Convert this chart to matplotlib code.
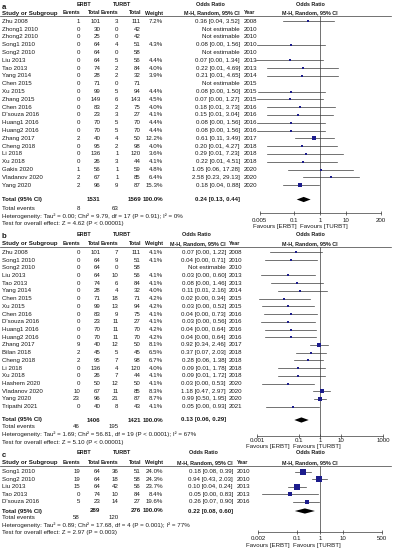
import numpy as np
import matplotlib
matplotlib.use("Agg")
import matplotlib.pyplot as plt
from matplotlib.patches import Polygon
from matplotlib.ticker import NullLocator
from matplotlib.transforms import blended_transform_factory

W, H = 394, 550
FS = 4.4
FS_HEAD = 3.9
INK = "#1a1a1a"
LINE = "#3a3a3a"
BLUE = "#1c1c8c"

plt.rcParams.update({
    "font.family": ["Liberation Sans", "DejaVu Sans"],
    "font.size": FS,
    "text.color": INK,
})

NA = np.nan

# ── panel a ──────────────────────────────────────────────────────────────
A_STUDY = ["Zhu 2008", "Zhong1 2010", "Zhong2 2010", "Song1 2010", "Song2 2010",
           "Liu 2013", "Tao 2013", "Yang 2014", "Chen 2015", "Xu 2015",
           "Zhang 2015", "Chen 2016", "D'souza 2016", "Huang1 2016", "Huang2 2016",
           "Zhang 2017", "Cheng 2018", "Li 2018", "Xu 2018", "Gakis 2020",
           "Vladanov 2020", "Yang 2020"]
A_E_ERBT = [1, 0, 0, 0, 0, 0, 0, 0, 0, 0, 0, 0, 0, 0, 0, 2, 0, 0, 0, 1, 2, 2]
A_N_ERBT = [101, 30, 25, 64, 64, 64, 74, 28, 71, 99, 149, 83, 23, 70, 70, 40, 95, 136, 26, 56, 67, 96]
A_E_TURBT = [3, 0, 0, 4, 0, 5, 2, 2, 0, 5, 6, 2, 3, 5, 5, 4, 2, 1, 3, 1, 1, 9]
A_N_TURBT = [111, 42, 42, 51, 58, 56, 84, 32, 71, 94, 143, 75, 27, 70, 70, 50, 98, 120, 44, 59, 85, 87]
A_WEIGHT = [7.2, NA, NA, 4.3, NA, 4.4, 4.0, 3.9, NA, 4.4, 4.5, 4.0, 4.1, 4.4, 4.4,
            12.2, 4.0, 3.6, 4.1, 4.8, 6.4, 15.3]
A_OR = [0.36, NA, NA, 0.08, NA, 0.07, 0.22, 0.21, NA, 0.08, 0.07, 0.18, 0.15, 0.08, 0.08,
        0.61, 0.20, 0.29, 0.22, 1.05, 2.58, 0.18]
A_LO = [0.04, NA, NA, 0.0041, NA, 0.0037, 0.01, 0.01, NA, 0.0043, 0.0039, 0.01, 0.01,
        0.0041, 0.0041, 0.11, 0.01, 0.01, 0.01, 0.06, 0.23, 0.04]
A_HI = [3.52, NA, NA, 1.56, NA, 1.34, 4.69, 4.65, NA, 1.50, 1.27, 3.73, 3.04, 1.56, 1.56,
        3.49, 4.27, 7.23, 4.51, 17.28, 29.13, 0.88]
A_YEAR = [2008, 2010, 2010, 2010, 2010, 2013, 2013, 2014, 2015, 2015, 2015, 2016, 2016,
          2016, 2016, 2017, 2018, 2018, 2018, 2020, 2020, 2020]
A_TOTAL_N = [1531, 1569]
A_TOTAL_EVENTS = [8, 63]
A_POOLED = [0.24, 0.13, 0.44]
A_HET = "Heterogeneity: Tau² = 0.00; Chi² = 9.79, df = 17 (P = 0.91); I² = 0%"
A_TEST = "Test for overall effect: Z = 4.62 (P < 0.00001)"
A_TICKS = [0.005, 0.1, 1, 10, 200]
A_TICKLABELS = ["0.005", "0.1", "1", "10", "200"]

# ── panel b ──────────────────────────────────────────────────────────────
B_STUDY = ["Zhu 2008", "Song1 2010", "Song2 2010", "Liu 2013", "Tao 2013", "Yang 2014",
           "Chen 2015", "Xu 2015", "Chen 2016", "D'souza 2016", "Huang1 2016",
           "Huang2 2016", "Zhang 2017", "Bilan 2018", "Cheng 2018", "Li 2018", "Xu 2018",
           "Hashem 2020", "Vladanov 2020", "Yang 2020", "Tripathi 2021"]
B_E_ERBT = [0, 0, 0, 0, 0, 0, 0, 0, 0, 0, 0, 0, 9, 2, 2, 0, 0, 0, 10, 23, 0]
B_N_ERBT = [101, 64, 64, 64, 74, 28, 71, 99, 83, 23, 70, 70, 40, 45, 95, 136, 26, 50, 67, 96, 40]
B_E_TURBT = [7, 9, 0, 10, 6, 4, 18, 13, 9, 11, 11, 11, 12, 5, 7, 4, 7, 12, 11, 21, 8]
B_N_TURBT = [111, 51, 58, 56, 84, 32, 71, 94, 75, 27, 70, 70, 50, 45, 98, 120, 44, 50, 85, 87, 43]
B_WEIGHT = [4.1, 4.1, NA, 4.1, 4.1, 4.0, 4.2, 4.2, 4.1, 4.1, 4.2, 4.2, 8.1, 6.5, 6.7,
            4.0, 4.1, 4.1, 8.3, 8.7, 4.1]
B_OR = [0.07, 0.04, NA, 0.03, 0.08, 0.11, 0.02, 0.03, 0.04, 0.03, 0.04, 0.04, 0.92, 0.37,
        0.28, 0.09, 0.09, 0.03, 1.18, 0.99, 0.05]
B_LO = [0.0040, 0.0023, NA, 0.0015, 0.0044, 0.01, 0.0012, 0.0017, 0.0022, 0.0016, 0.0025,
        0.0025, 0.34, 0.07, 0.06, 0.01, 0.01, 0.0017, 0.47, 0.50, 0.0027]
B_HI = [1.22, 0.71, NA, 0.60, 1.46, 2.16, 0.34, 0.52, 0.73, 0.56, 0.64, 0.64, 2.46, 2.03,
        1.38, 1.78, 1.72, 0.53, 2.97, 1.95, 0.93]
B_YEAR = [2008, 2010, 2010, 2013, 2013, 2014, 2015, 2015, 2016, 2016, 2016, 2016, 2017,
          2018, 2018, 2018, 2018, 2020, 2020, 2020, 2021]
B_TOTAL_N = [1406, 1421]
B_TOTAL_EVENTS = [46, 195]
B_POOLED = [0.13, 0.06, 0.29]
B_HET = "Heterogeneity: Tau² = 1.69; Chi² = 56.81, df = 19 (P < 0.0001); I² = 67%"
B_TEST = "Test for overall effect: Z = 5.10 (P < 0.00001)"
B_TICKS = [0.001, 0.1, 1, 10, 1000]
B_TICKLABELS = ["0.001", "0.1", "1", "10", "1000"]

# ── panel c ──────────────────────────────────────────────────────────────
C_STUDY = ["Song1 2010", "Song2 2010", "Liu 2013", "Tao 2013", "D'souza 2016"]
C_E_ERBT = [19, 19, 15, 0, 5]
C_N_ERBT = [64, 64, 64, 74, 23]
C_E_TURBT = [36, 18, 42, 10, 14]
C_N_TURBT = [51, 58, 56, 84, 27]
C_WEIGHT = [24.0, 24.3, 23.7, 8.4, 19.6]
C_OR = [0.18, 0.94, 0.10, 0.05, 0.26]
C_LO = [0.08, 0.43, 0.04, 0.0030, 0.07]
C_HI = [0.39, 2.03, 0.24, 0.83, 0.90]
C_YEAR = [2010, 2010, 2013, 2013, 2016]
C_TOTAL_N = [289, 276]
C_TOTAL_EVENTS = [58, 120]
C_POOLED = [0.22, 0.08, 0.60]
C_HET = "Heterogeneity: Tau² = 0.89; Chi² = 17.68, df = 4 (P = 0.001); I² = 77%"
C_TEST = "Test for overall effect: Z = 2.97 (P = 0.003)"
C_TICKS = [0.002, 0.1, 1, 10, 500]
C_TICKLABELS = ["0.002", "0.1", "1", "10", "500"]

# layout in pixels (y measured from top)
LAYOUT = {
    "a": dict(h1=5, h2=13, row0=21.3, step=7.8, total=199.5, tev=208, het=216, test=224,
              axis_y=213, ticklab=220, fav=226.5, x0=259.5, x1=380.5,
              ci_r=240, yr_x=244, fav_split=298.5, plot_c=310),
    "b": dict(h1=234, h2=243.5, row0=252.3, step=7.72, total=420, tev=427, het=434.5, test=442.5,
              axis_y=435.5, ticklab=441, fav=446.5, x0=257, x1=383,
              ci_r=226, yr_x=229, fav_split=291.5, plot_c=310),
    "c": dict(h1=453, h2=462.5, row0=471.5, step=7.6, total=511, tev=517.5, het=525, test=532.5,
              axis_y=531.5, ticklab=538, fav=545, x0=258, x1=382,
              ci_r=233, yr_x=237, fav_split=291.5, plot_c=310),
}

X_EV1, X_TOT1, X_EV2, X_TOT2, X_W = 80, 100.5, 118.5, 141, 163


def fmt_ci(o, lo, hi):
    return f"{o:.2f} [{lo:.2f}, {hi:.2f}]"


def draw_panel(fig, tx, letter, study, e1, n1, e2, n2, weight, orr, lo, hi, year,
               tot_n, tot_ev, pooled, het, test, ticks, ticklabels):
    L = LAYOUT[letter]
    t = dict(va="center", fontsize=FS)
    b = dict(va="center", fontsize=FS, fontweight="bold")
    hb = dict(va="center", fontsize=FS_HEAD, fontweight="bold")

    # header rows
    tx.text(2, L["h1"] + 2.5, letter, ha="left", va="center", fontsize=5.6, fontweight="bold")
    tx.text(84, L["h1"], "ERBT", ha="center", **hb)
    tx.text(122, L["h1"], "TURBT", ha="center", **hb)
    tx.text(L["ci_r"] - 30, L["h1"], "Odds Ratio", ha="center", **hb)
    tx.text(L["plot_c"], L["h1"], "Odds Ratio", ha="center", **hb)
    tx.text(2, L["h2"], "Study or Subgroup", ha="left", **b)
    for x, s in [(X_EV1, "Events"), (X_TOT1, "Total"), (X_EV2, "Events"),
                 (X_TOT2, "Total"), (X_W, "Weight"), (L["ci_r"], "M-H, Random, 95% CI")]:
        tx.text(x, L["h2"], s, ha="right", **hb)
    tx.text(L["yr_x"], L["h2"], "Year", ha="left", **hb)
    tx.text(L["plot_c"], L["h2"], "M-H, Random, 95% CI", ha="center", **hb)
    u = L["h2"] + 3.2
    tx.plot([0, 391], [u, u], color=LINE, lw=0.5)

    # forest axes
    ax = fig.add_axes([L["x0"] / W, 1 - L["axis_y"] / H,
                       (L["x1"] - L["x0"]) / W, (L["axis_y"] - u) / H])
    ax.set_xscale("log")
    ax.set_xlim(ticks[0], ticks[-1])
    ax.set_ylim(L["axis_y"], u)
    ax.patch.set_alpha(0)
    for s in ["top", "left", "right"]:
        ax.spines[s].set_visible(False)
    ax.spines["bottom"].set_linewidth(0.5)
    ax.spines["bottom"].set_color(LINE)
    ax.set_yticks([])
    ax.set_xticks(ticks)
    ax.set_xticklabels([])
    ax.xaxis.set_minor_locator(NullLocator())
    ax.tick_params(axis="x", direction="inout", length=3, width=0.5, color=LINE)
    ax.axvline(1, color=LINE, lw=0.5)

    lab_tr = blended_transform_factory(ax.transData, tx.transData)
    for tv, tl in zip(ticks, ticklabels):
        tx.text(tv, L["ticklab"], tl, ha="center", transform=lab_tr, **t)
    tx.text(L["fav_split"] - 1.5, L["fav"], "Favours [ERBT]", ha="right", **t)
    tx.text(L["fav_split"] + 1.5, L["fav"], "Favours [TURBT]", ha="left", **t)

    # study rows
    for i in range(len(study)):
        y = L["row0"] + i * L["step"]
        tx.text(2, y, study[i], ha="left", **t)
        tx.text(X_EV1, y, str(e1[i]), ha="right", **t)
        tx.text(X_TOT1, y, str(n1[i]), ha="right", **t)
        tx.text(X_EV2, y, str(e2[i]), ha="right", **t)
        tx.text(X_TOT2, y, str(n2[i]), ha="right", **t)
        if np.isnan(orr[i]):
            tx.text(L["ci_r"], y, "Not estimable", ha="right", **t)
        else:
            tx.text(X_W, y, f"{weight[i]:.1f}%", ha="right", **t)
            tx.text(L["ci_r"], y, fmt_ci(orr[i], lo[i], hi[i]), ha="right", **t)
            ax.plot([lo[i], hi[i]], [y, y], color=LINE, lw=0.5, clip_on=False)
            ax.plot([orr[i]], [y], marker="s", ms=0.8 * np.sqrt(weight[i]),
                    color=BLUE, mec=BLUE, mew=0, clip_on=False)
        tx.text(L["yr_x"], y, str(year[i]), ha="left", **t)

    # totals
    yt = L["total"]
    tx.text(2, yt, "Total (95% CI)", ha="left", **b)
    tx.text(X_TOT1, yt, str(tot_n[0]), ha="right", **b)
    tx.text(X_TOT2, yt, str(tot_n[1]), ha="right", **b)
    tx.text(X_W, yt, "100.0%", ha="right", **b)
    tx.text(L["ci_r"], yt, fmt_ci(*pooled), ha="right", **b)
    dh = 2.6
    ax.add_patch(Polygon([(pooled[1], yt), (pooled[0], yt - dh), (pooled[2], yt),
                          (pooled[0], yt + dh)], closed=True, color="black", lw=0,
                         clip_on=False))
    tx.text(2, L["tev"], "Total events", ha="left", **t)
    tx.text(X_EV1, L["tev"], str(tot_ev[0]), ha="right", **t)
    tx.text(X_EV2, L["tev"], str(tot_ev[1]), ha="right", **t)
    tx.text(2, L["het"], het, ha="left", **t)
    tx.text(2, L["test"], test, ha="left", **t)


fig = plt.figure(figsize=(W / 100, H / 100), dpi=100)
fig.patch.set_facecolor("white")
tx = fig.add_axes([0, 0, 1, 1])
tx.set_xlim(0, W)
tx.set_ylim(H, 0)
tx.axis("off")

draw_panel(fig, tx, "a", A_STUDY, A_E_ERBT, A_N_ERBT, A_E_TURBT, A_N_TURBT, A_WEIGHT,
           A_OR, A_LO, A_HI, A_YEAR, A_TOTAL_N, A_TOTAL_EVENTS, A_POOLED, A_HET, A_TEST,
           A_TICKS, A_TICKLABELS)
draw_panel(fig, tx, "b", B_STUDY, B_E_ERBT, B_N_ERBT, B_E_TURBT, B_N_TURBT, B_WEIGHT,
           B_OR, B_LO, B_HI, B_YEAR, B_TOTAL_N, B_TOTAL_EVENTS, B_POOLED, B_HET, B_TEST,
           B_TICKS, B_TICKLABELS)
draw_panel(fig, tx, "c", C_STUDY, C_E_ERBT, C_N_ERBT, C_E_TURBT, C_N_TURBT, C_WEIGHT,
           C_OR, C_LO, C_HI, C_YEAR, C_TOTAL_N, C_TOTAL_EVENTS, C_POOLED, C_HET, C_TEST,
           C_TICKS, C_TICKLABELS)

fig.savefig("out.png", dpi=100, facecolor="white")
plt.close(fig)
